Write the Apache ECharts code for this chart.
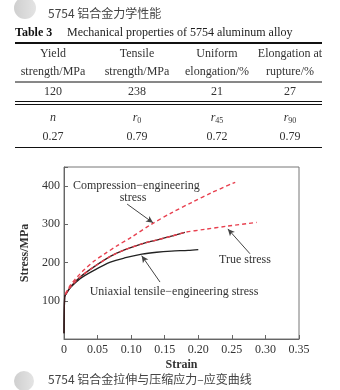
<!DOCTYPE html>
<html><head><meta charset="utf-8">
<script src="https://cdn.jsdelivr.net/npm/echarts@6/dist/echarts.min.js"></script>
<style>html,body{margin:0;padding:0;background:#fff}#c{width:340px;height:390px}</style>
</head><body><div id="c"></div>
<script>
// ---- data ----
const headerTitle = '5754 铝合金力学性能';
const tableCaptionBold = 'Table 3';
const tableCaption = 'Mechanical properties of 5754 aluminum alloy';
const headRow1 = ['Yield', 'Tensile', 'Uniform', 'Elongation at'];
const headRow2 = ['strength/MPa', 'strength/MPa', 'elongation/%', 'rupture/%'];
const valRow1 = ['120', '238', '21', '27'];
const symRow = [['n', ''], ['r', '0'], ['r', '45'], ['r', '90']];
const valRow2 = ['0.27', '0.79', '0.72', '0.79'];
const figCaption = '5754 铝合金拉伸与压缩应力\u2013应变曲线';

const engStrain = [0, 0.001, 0.003, 0.01, 0.024, 0.044, 0.069, 0.09, 0.116, 0.138, 0.16, 0.185, 0.2];
const engStress = [15, 110, 118, 135, 158, 179, 201, 212, 222, 227, 230, 232, 234];
const trueStrain = [0, 0.001, 0.003, 0.01, 0.024, 0.044, 0.069, 0.09, 0.116, 0.138, 0.16, 0.18];
const trueStress = [15, 110, 118, 137, 162, 188, 216, 233, 249, 259, 269, 279];
const fitStrain = [0.002, 0.01, 0.024, 0.044, 0.069, 0.09, 0.116, 0.138, 0.16, 0.18, 0.21, 0.242, 0.287];
const fitStress = [116, 137, 162, 188, 216, 233, 249, 259, 269, 279, 287, 295, 305];
const compStrain = [0.002, 0.01, 0.02, 0.03, 0.045, 0.06, 0.08, 0.1, 0.13, 0.16, 0.19, 0.22, 0.255];
const compStress = [118, 142, 163, 181, 204, 222, 245, 266, 300, 330, 357, 383, 410];

const xTicksMax = 0.35, xInterval = 0.05;
const yTicksMax = 450, yInterval = 100;

const labelComp = ['Compression\u2212engineering', 'stress'];
const labelTrue = 'True stress';
const labelEng = 'Uniaxial tensile\u2212engineering stress';
const arrowComp = [[0.094, 353], [0.1326, 304]];
const arrowTrue = [[0.277, 223], [0.244, 288]];
const arrowEng = [[0.143, 149], [0.1157, 218]];

// ---- build ----
const zip = (a, b) => a.map((v, i) => [v, b[i]]);
const serif = 'Liberation Serif';
const cjk = 'Noto Sans CJK SC';
const txtCol = '#333';
const colX = [53, 137, 217, 290];
const red = '#e8404f';

const g = [];
function circ(cx, cy, r) {
  g.push({ type: 'circle', shape: { cx, cy, r }, style: { fill: new echarts.graphic.LinearGradient(0, 0, 1, 0, [{ offset: 0, color: '#cfcfcf' }, { offset: 1, color: '#e4e4e4' }]) } });
}
function txt(x, y, s, opt) {
  g.push({ type: 'text', x, y, style: Object.assign({ text: s, fill: txtCol, font: '12px ' + serif, textAlign: 'center', textVerticalAlign: 'middle' }, opt || {}) });
}
function hline(y, w) {
  g.push({ type: 'line', shape: { x1: 15, y1: y, x2: 322, y2: y }, style: { stroke: '#111', lineWidth: w } });
}
circ(25, 8, 11);
txt(48, 13, headerTitle, { font: '12px ' + cjk, textAlign: 'left', fill: '#444' });
txt(15, 33, tableCaptionBold, { font: 'bold 12px ' + serif, textAlign: 'left', fill: '#111' });
txt(67, 33, tableCaption, { font: '12px ' + serif, textAlign: 'left', fill: '#222' });
hline(43, 2);
headRow1.forEach((s, i) => txt(colX[i], 54, s));
headRow2.forEach((s, i) => txt(colX[i], 72, s));
hline(82, 1);
valRow1.forEach((s, i) => txt(colX[i], 92, s));
hline(101.5, 1); hline(104.5, 1);
symRow.forEach((s, i) => {
  g.push({ type: 'text', x: colX[i], y: 118, style: { text: '{a|' + s[0] + '}' + (s[1] ? '{b|' + s[1] + '}' : ''), textAlign: 'center', textVerticalAlign: 'middle', rich: { a: { font: 'italic 12px ' + serif, fill: txtCol }, b: { font: '8px ' + serif, fill: txtCol, padding: [6, 0, 0, 0] } } } });
});
valRow2.forEach((s, i) => txt(colX[i], 137, s));
hline(147.5, 1);
circ(24, 381, 10);
txt(48, 379, figCaption, { font: '12px ' + cjk, textAlign: 'left', fill: '#444' });
// chart annotations
txt(73, 186, labelComp[0], { textAlign: 'left' });
txt(133, 198, labelComp[1]);
txt(245, 260, labelTrue);
txt(174, 292, labelEng);

function arrow(c) {
  return { silent: true, symbol: ['none', 'arrow'], symbolSize: [5, 7], label: { show: false },
    lineStyle: { color: '#444', type: 'solid', width: 1 }, data: [[{ coord: c[0] }, { coord: c[1] }]] };
}

const chart = echarts.init(document.getElementById('c'), null, { renderer: 'canvas' });
chart.setOption({
  animation: false,
  grid: { left: 64, right: 41, top: 167, bottom: 51, show: true, borderColor: '#777', borderWidth: 1 },
  xAxis: {
    type: 'value', min: 0, max: xTicksMax, interval: xInterval,
    name: 'Strain', nameLocation: 'middle', nameGap: 20,
    nameTextStyle: { fontFamily: serif, fontSize: 12, color: txtCol, fontWeight: 'bold' },
    axisLine: { lineStyle: { color: '#666' } },
    axisTick: { inside: true, length: 4, lineStyle: { color: '#666' } },
    axisLabel: { fontFamily: serif, fontSize: 12, color: txtCol, margin: 5, formatter: v => v === 0 ? '0' : v.toFixed(2) },
    splitLine: { show: false }
  },
  yAxis: {
    type: 'value', min: 0, max: yTicksMax, interval: yInterval,
    name: 'Stress/MPa', nameLocation: 'middle', nameGap: 26,
    nameTextStyle: { fontFamily: serif, fontSize: 12, color: txtCol, fontWeight: 'bold' },
    axisLine: { lineStyle: { color: '#666' } },
    axisTick: { inside: true, length: 4, lineStyle: { color: '#666' } },
    axisLabel: { fontFamily: serif, fontSize: 12, color: txtCol, margin: 4, formatter: v => (v === 0 || v === yTicksMax) ? '' : String(v) },
    splitLine: { show: false }
  },
  series: [
    { type: 'line', data: zip(engStrain, engStress), showSymbol: false, smooth: 0.3, lineStyle: { color: '#222', width: 1.3 }, markLine: arrow(arrowEng) },
    { type: 'line', data: zip(trueStrain, trueStress), showSymbol: false, smooth: 0.3, lineStyle: { color: '#3a1a1a', width: 1.3 } },
    { type: 'line', data: zip(fitStrain, fitStress), showSymbol: false, smooth: 0.3, lineStyle: { color: red, width: 1.4, type: [4, 3] }, markLine: arrow(arrowTrue) },
    { type: 'line', data: zip(compStrain, compStress), showSymbol: false, smooth: 0.3, lineStyle: { color: red, width: 1.4, type: [4, 3] }, markLine: arrow(arrowComp) }
  ],
  graphic: { elements: g }
});
</script></body></html>
